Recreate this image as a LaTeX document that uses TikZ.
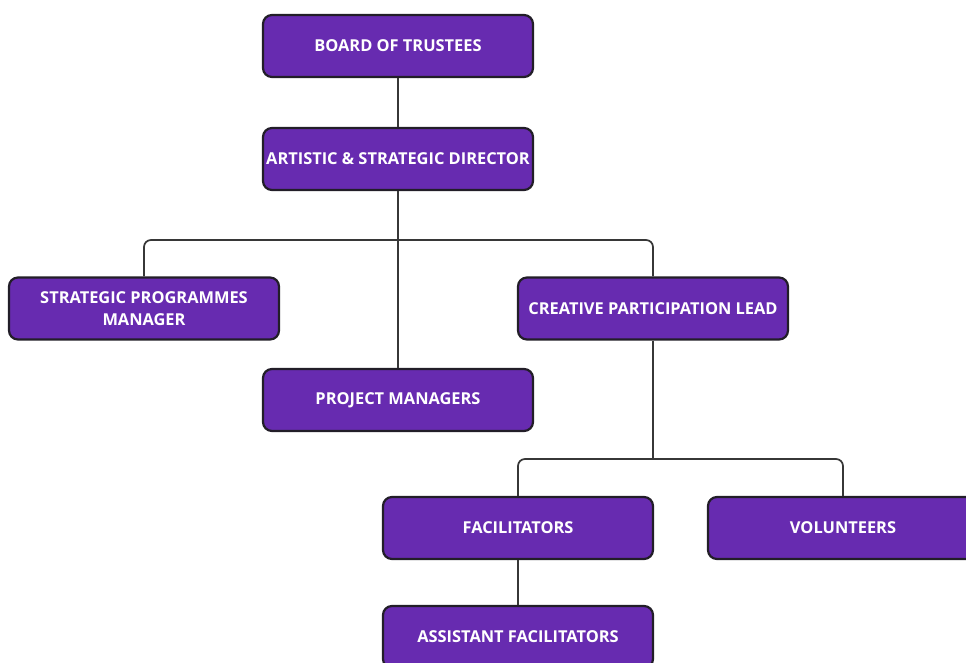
\documentclass[tikz,border=0pt]{standalone}
\usepackage{fontspec}
\setmainfont{Open Sans}
\definecolor{boxfill}{RGB}{103,43,176}
\definecolor{boxline}{RGB}{34,30,40}
\definecolor{wire}{RGB}{55,55,55}
\begin{document}
\begin{tikzpicture}[x=1pt,y=-1pt,
  orgbox/.style={draw=boxline,line width=2.2pt,fill=boxfill,rounded corners=9pt,
    minimum width=270pt,minimum height=62pt,text=white,font=\bfseries\fontsize{16.4}{22.5}\selectfont,
    align=center,inner sep=2pt},
  wireline/.style={draw=wire,line width=1.7pt,rounded corners=7pt}]
\useasboundingbox (0,0) rectangle (966,662);
\clip (0,0) rectangle (966,662);
\node[orgbox] (board) at (398,46) {BOARD OF TRUSTEES};
\node[orgbox] (asd) at (398,159) {ARTISTIC \& STRATEGIC DIRECTOR};
\node[orgbox] (spm) at (144,308.5) {STRATEGIC PROGRAMMES\\MANAGER};
\node[orgbox] (cpl) at (653,308.5) {CREATIVE PARTICIPATION LEAD};
\node[orgbox] (pm) at (398,400) {PROJECT MANAGERS};
\node[orgbox] (fac) at (518,528) {FACILITATORS};
\node[orgbox] (vol) at (843,528) {VOLUNTEERS};
\node[orgbox] (afac) at (518,637) {ASSISTANT FACILITATORS};
\coordinate (bus1) at (398,240);
\coordinate (bus2) at (653,459);
\draw[wireline] (board.south) -- (asd.north);
\draw[wireline] (asd.south) -- (pm.north);
\draw[wireline] (spm.north) |- (bus1) -| (cpl.north);
\draw[wireline] (cpl.south) -- (bus2);
\draw[wireline] (fac.north) |- (bus2) -| (vol.north);
\draw[wireline] (fac.south) -- (afac.north);
\end{tikzpicture}
\end{document}
